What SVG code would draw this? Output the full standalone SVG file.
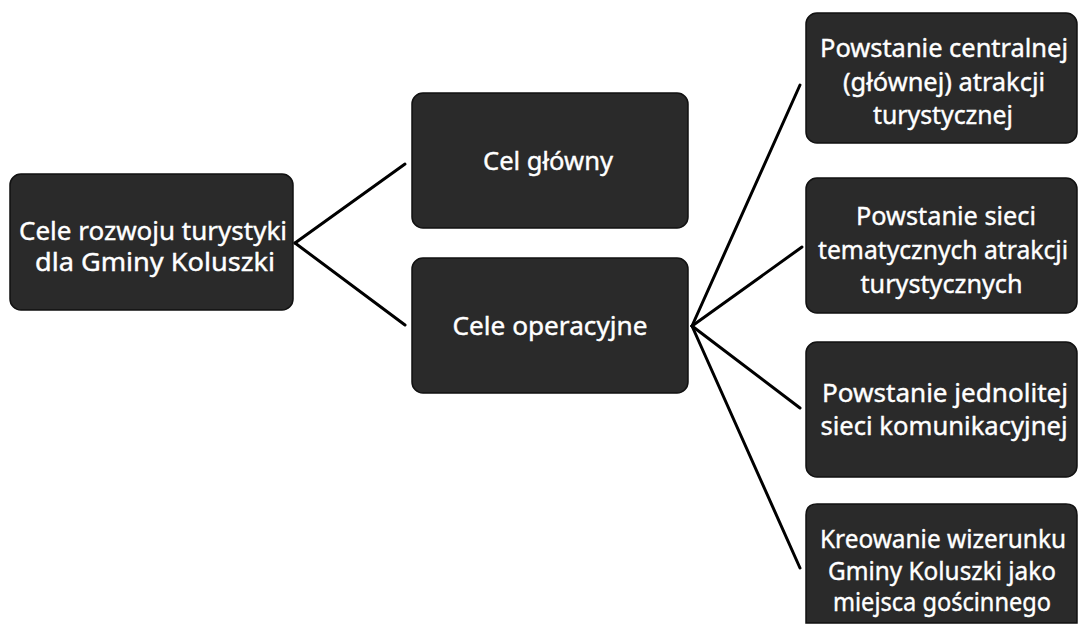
<svg xmlns="http://www.w3.org/2000/svg" width="1078" height="634" viewBox="0 0 1078 634">
<style>
.box{fill:#2a2a2a;stroke:#111;stroke-width:1.5}
.t{font-family:"Noto Sans","Open Sans","DejaVu Sans",sans-serif;font-size:26px;fill:#fff;stroke:#fff;stroke-width:0.4;text-anchor:middle}
.c{stroke:#000;stroke-width:3;fill:none;stroke-linecap:round}
</style>
<rect width="1078" height="634" fill="#fff"/>
<g id="connectors">
<line class="c" x1="295" y1="243" x2="405" y2="164"/>
<line class="c" x1="295" y1="243" x2="405" y2="325"/>
<line class="c" x1="692" y1="326" x2="800" y2="85"/>
<line class="c" x1="692" y1="326" x2="802" y2="247"/>
<line class="c" x1="692" y1="326" x2="800" y2="408"/>
<line class="c" x1="692" y1="326" x2="800" y2="568"/>
</g>
<g id="root">
<rect class="box" x="10" y="174" width="283" height="136" rx="11"/>
<text class="t" x="153" y="240" textLength="268" lengthAdjust="spacingAndGlyphs">Cele rozwoju turystyki</text>
<text class="t" x="155" y="271" textLength="240" lengthAdjust="spacingAndGlyphs">dla Gminy Koluszki</text>
</g>
<g id="cel-glowny">
<rect class="box" x="412" y="93" width="276" height="135" rx="11"/>
<text class="t" x="548" y="170" textLength="130" lengthAdjust="spacingAndGlyphs">Cel główny</text>
</g>
<g id="cele-operacyjne">
<rect class="box" x="412" y="258" width="276" height="135" rx="11"/>
<text class="t" x="550" y="335" textLength="195" lengthAdjust="spacingAndGlyphs">Cele operacyjne</text>
</g>
<g id="cel-1">
<rect class="box" x="806" y="13" width="271" height="130" rx="11"/>
<text class="t" x="944" y="57" textLength="248" lengthAdjust="spacingAndGlyphs">Powstanie centralnej</text>
<text class="t" x="944" y="91" textLength="202" lengthAdjust="spacingAndGlyphs">(głównej) atrakcji</text>
<text class="t" x="943" y="124" textLength="140" lengthAdjust="spacingAndGlyphs">turystycznej</text>
</g>
<g id="cel-2">
<rect class="box" x="806" y="178" width="271" height="135" rx="11"/>
<text class="t" x="946" y="225" textLength="180" lengthAdjust="spacingAndGlyphs">Powstanie sieci</text>
<text class="t" x="943" y="259" textLength="250" lengthAdjust="spacingAndGlyphs">tematycznych atrakcji</text>
<text class="t" x="941.5" y="293" textLength="162" lengthAdjust="spacingAndGlyphs">turystycznych</text>
</g>
<g id="cel-3">
<rect class="box" x="806" y="342" width="271" height="135" rx="11"/>
<text class="t" x="945" y="402" textLength="246" lengthAdjust="spacingAndGlyphs">Powstanie jednolitej</text>
<text class="t" x="944" y="435" textLength="247" lengthAdjust="spacingAndGlyphs">sieci komunikacyjnej</text>
</g>
<g id="cel-4">
<path class="box" d="M806 623 V515 Q806 504 817 504 H1066 Q1077 504 1077 515 V623 Z"/>
<text class="t" x="943" y="548" textLength="246" lengthAdjust="spacingAndGlyphs">Kreowanie wizerunku</text>
<text class="t" x="942" y="580" textLength="228" lengthAdjust="spacingAndGlyphs">Gminy Koluszki jako</text>
<text class="t" x="942" y="611" textLength="218" lengthAdjust="spacingAndGlyphs">miejsca gościnnego</text>
</g>
</svg>
